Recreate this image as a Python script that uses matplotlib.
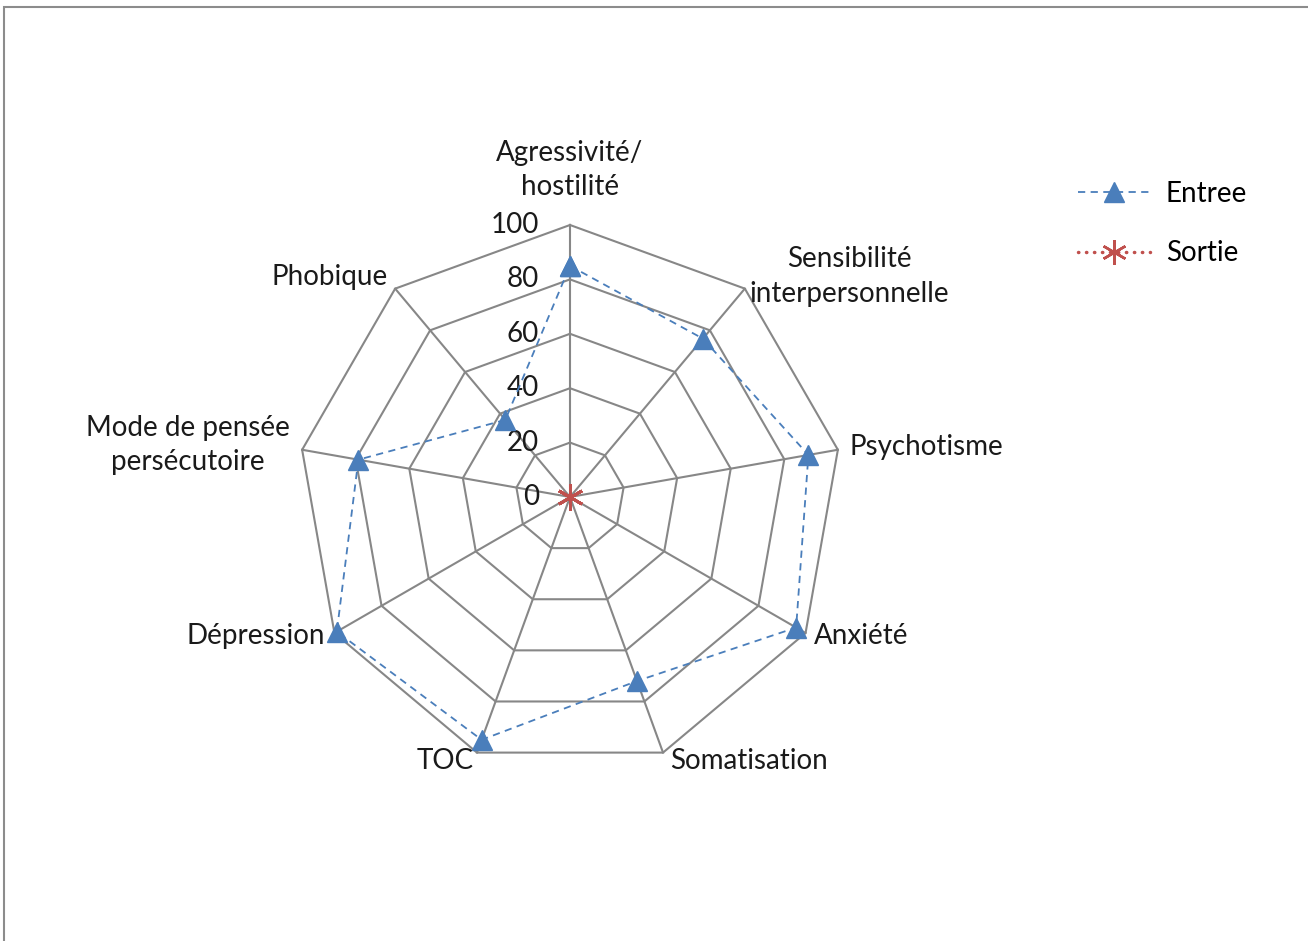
import numpy as np
import matplotlib.pyplot as plt
from matplotlib.patches import Rectangle
from matplotlib.lines import Line2D

plt.rcParams['font.family'] = ['Lato', 'DejaVu Sans']

categories = ['Agressivité/\nhostilité', 'Sensibilité\ninterpersonnelle', 'Psychotisme',
              'Anxiété', 'Somatisation', 'TOC', 'Dépression',
              'Mode de pensée\npersécutoire', 'Phobique']
entree = [85, 76, 89, 96, 72, 95, 99, 79, 37]
sortie = [0, 0, 0, 0, 0, 0, 0, 0, 0]
ticks = [0, 20, 40, 60, 80, 100]

grid_col = '#878787'
blue = '#4A7EBB'
red = '#C0504D'
txt_col = '#1a1a1a'
fs = 20

fig = plt.figure(figsize=(13.08, 9.41), dpi=100)
# cadre de la zone du graphique
fig.patches.append(Rectangle((4 / 1308, -0.1), 1.2, 1 - 7 / 941 + 0.1, transform=fig.transFigure,
                             fill=False, edgecolor='#8c8c8c', linewidth=1.5))

# centre (570, 497) px, rayon 272 px
ax = fig.add_axes([(570 - 272) / 1308, (444 - 272) / 941, 544 / 1308, 544 / 941], projection='polar')
ax.set_theta_zero_location('N')
ax.set_theta_direction(-1)
ax.set_ylim(0, 100)
ax.grid(False)
ax.spines['polar'].set_visible(False)
ax.set_xticks([])
ax.set_yticks([])
ax.patch.set_alpha(0)

n = len(categories)
angles = np.arange(n) * 2 * np.pi / n
closed = np.append(angles, angles[0])

# grille polygonale
for r in ticks[1:]:
    ax.plot(closed, [r] * (n + 1), color=grid_col, lw=1.5, clip_on=False, zorder=1)
for a in angles:
    ax.plot([a, a], [0, 100], color=grid_col, lw=1.5, clip_on=False, zorder=1)

# valeurs de l'axe
for r in ticks:
    ax.annotate(str(r), xy=(0, r), xytext=(-31, 0), textcoords='offset pixels',
                ha='right', va='center', fontsize=fs, color=txt_col)

ax.plot(closed, entree + entree[:1], color=blue, lw=1.3, ls=(0, (4, 3)), marker='^',
        markersize=14, markerfacecolor=blue, markeredgecolor=blue, clip_on=False, zorder=3)
ax.plot(closed, sortie + sortie[:1], color=red, lw=1.5, ls=':', marker=(6, 2, 0),
        markersize=19, markeredgewidth=1.8, markeredgecolor=red, clip_on=False, zorder=4)

offsets = [(0, 25, 'center', 'bottom'), (5, 12, 'left', 'center'), (12, 3, 'left', 'center'),
           (8, -3, 'left', 'center'), (7, -8, 'left', 'center'), (-3, -8, 'right', 'center'),
           (-9, -3, 'right', 'center'), (-12, 5, 'right', 'center'), (-7, 12, 'right', 'center')]
for a, lab, (dx, dy, ha, va) in zip(angles, categories, offsets):
    ax.annotate(lab, xy=(a, 100), xytext=(dx, dy), textcoords='offset pixels',
                ha=ha, va=va, multialignment='center', fontsize=fs, color=txt_col,
                linespacing=1.4)

handles = [Line2D([], [], color=blue, lw=1.3, ls=(0, (4, 3)), marker='^', markersize=15,
                  markerfacecolor=blue, markeredgecolor=blue),
           Line2D([], [], color=red, lw=2.5, ls=(0, (0.1, 2.2)), dash_capstyle='round',
                  marker=(6, 2, 0), markersize=18, markeredgewidth=1.8, markeredgecolor=red)]
fig.legend(handles, ['Entree', 'Sortie'], loc='upper left', bbox_to_anchor=(1067 / 1308, 1 - 170 / 941),
           frameon=False, fontsize=fs, handlelength=2.6, handletextpad=0.55, labelspacing=1.2,
           borderaxespad=0)

fig.savefig('out.png', dpi=100)
